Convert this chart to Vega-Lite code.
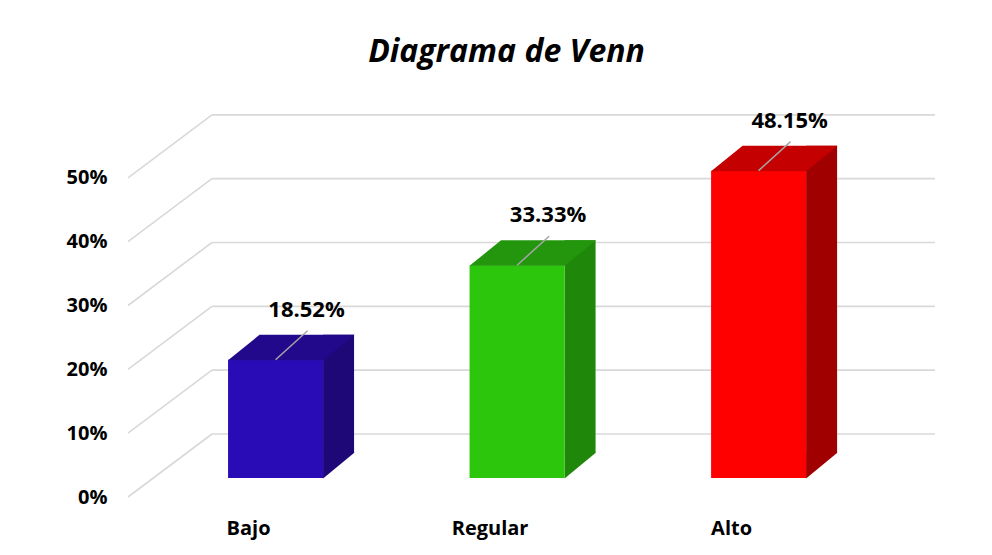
{
  "$schema": "https://vega.github.io/schema/vega-lite/v6.json",
  "autosize": "none",
  "width": 807,
  "height": 383,
  "padding": {"left": 128, "top": 114, "right": 57, "bottom": 58},
  "background": "white",
  "title": {
    "text": "Diagrama de Venn",
    "font": "Open Sans",
    "fontSize": 32,
    "fontStyle": "italic",
    "fontWeight": "bold",
    "color": "#000000",
    "anchor": "middle",
    "baseline": "alphabetic",
    "offset": 16,
    "dx": -25
  },
  "config": {
    "view": {"stroke": null},
    "axis": {"domain": false, "ticks": false, "grid": false, "labelColor": "#000000", "labelFont": "Open Sans", "labelFontWeight": "bold", "labelFontSize": 20}
  },
  "datasets": {
    "bars": [
      {"cat": "Bajo", "value": 0.1852},
      {"cat": "Regular", "value": 0.3333},
      {"cat": "Alto", "value": 0.4815}
    ],
    "grid": [
      {"v": 0}, {"v": 0.1}, {"v": 0.2}, {"v": 0.3}, {"v": 0.4}, {"v": 0.5}
    ]
  },
  "resolve": {"scale": {"x": "independent", "color": "independent"}},
  "layer": [
    {
      "data": {"name": "grid"},
      "mark": {"type": "rule", "color": "#d9d9d9", "strokeWidth": 1.6, "y2Offset": -63},
      "encoding": {
        "x": {"datum": 0, "type": "quantitative", "scale": {"domain": [0, 100]}, "axis": null},
        "x2": {"datum": 10.4},
        "y": {"field": "v", "type": "quantitative", "title": null, "scale": {"domain": [0, 0.6]},
              "axis": {"values": [0, 0.1, 0.2, 0.3, 0.4, 0.5], "format": ".0%", "labelPadding": 21}},
        "y2": {"field": "v"}
      }
    },
    {
      "data": {"name": "grid"},
      "mark": {"type": "rule", "color": "#d9d9d9", "strokeWidth": 1.6, "yOffset": -63},
      "encoding": {
        "x": {"datum": 10.4, "type": "quantitative", "scale": {"domain": [0, 100]}, "axis": null},
        "x2": {"datum": 100},
        "y": {"field": "v", "type": "quantitative", "title": null}
      }
    },
    {
      "data": {"name": "bars"},
      "resolve": {"scale": {"color": "independent"}},
      "encoding": {
        "x": {"field": "cat", "type": "nominal", "sort": null, "title": null,
              "scale": {"paddingInner": 0.6066, "paddingOuter": 0.474, "align": 0.437},
              "axis": {"labelAngle": 0, "labelOffset": -27, "labelPadding": 21}}
      },
      "layer": [
        {
          "mark": {"type": "rule", "strokeWidth": 31, "xOffset": 63, "yOffset": -44, "y2Offset": -44},
          "encoding": {
            "y": {"field": "value", "type": "quantitative", "title": null},
            "y2": {"datum": 0},
            "color": {"field": "cat", "type": "nominal", "legend": null,
                      "scale": {"domain": ["Bajo", "Regular", "Alto"], "range": ["#1e0878", "#1f880b", "#a00000"]}}
          }
        },
        {
          "mark": {"type": "point", "filled": true, "opacity": 1, "size": 4, "yOffset": -19,
                   "shape": "M47.5,-25.5L79,-25.5L47.5,0.5Z"},
          "encoding": {
            "y": {"datum": 0, "type": "quantitative"},
            "color": {"field": "cat", "type": "nominal", "legend": null,
                      "scale": {"domain": ["Bajo", "Regular", "Alto"], "range": ["#1e0878", "#1f880b", "#a00000"]}}
          }
        },
        {
          "mark": {"type": "bar", "yOffset": -19, "y2Offset": -19},
          "encoding": {
            "y": {"field": "value", "type": "quantitative", "title": null},
            "y2": {"datum": 0},
            "color": {"field": "cat", "type": "nominal", "legend": null,
                      "scale": {"domain": ["Bajo", "Regular", "Alto"], "range": ["#2a0cb6", "#2cc70c", "#ff0000"]}}
          }
        },
        {
          "mark": {"type": "point", "filled": true, "opacity": 1, "size": 4, "yOffset": -19,
                   "shape": "M-47.5,0.5L47.5,0.5L79,-25L-16,-25Z"},
          "encoding": {
            "y": {"field": "value", "type": "quantitative", "title": null},
            "color": {"field": "cat", "type": "nominal", "legend": null,
                      "scale": {"domain": ["Bajo", "Regular", "Alto"], "range": ["#22098c", "#23960e", "#c40000"]}}
          }
        },
        {
          "mark": {"type": "rule", "color": "#a6a6a6", "strokeWidth": 1.5, "yOffset": -19, "x2Offset": 32, "y2Offset": -48},
          "encoding": {
            "x2": {"field": "cat"},
            "y": {"field": "value", "type": "quantitative", "title": null},
            "y2": {"field": "value"}
          }
        },
        {
          "mark": {"type": "text", "font": "Open Sans", "fontWeight": "bold", "fontSize": 22, "color": "#000000",
                   "yOffset": -19, "dx": 31, "dy": -50, "baseline": "middle", "align": "center"},
          "encoding": {
            "y": {"field": "value", "type": "quantitative", "title": null},
            "text": {"field": "value", "type": "quantitative", "format": ".2%"}
          }
        }
      ]
    }
  ]
}
